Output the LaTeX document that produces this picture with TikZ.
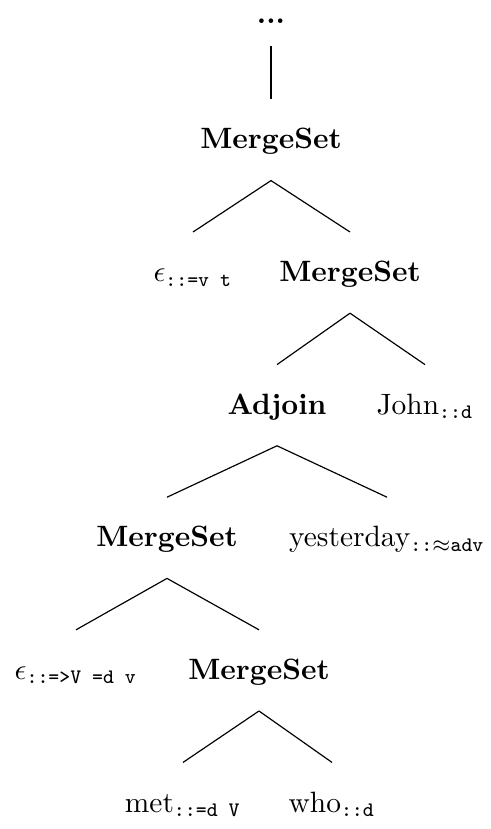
\documentclass[tikz,border=0pt]{standalone}
\usepackage{amsmath}
\newcommand{\sbtt}[1]{\text{\ttfamily #1}}
\begin{document}
\begin{tikzpicture}[x=0.34pt,y=-0.34pt,
  tn/.style={anchor=base, inner sep=0pt, text height=16.66pt, text depth=10.54pt},
  topnode/.style={anchor=base, inner sep=0pt, text height=5pt, text depth=7.14pt},
  branch/.style={line width=0.4pt}]
\useasboundingbox (0,0) rectangle (491,829);
\node[topnode] (top) at (271,24) {\textbf{...}};
\node[tn] (m1) at (271,149) {\textbf{MergeSet}};
\node[tn] (e1) at (193,281.6) {$\epsilon_{\sbtt{::=v t}}$};
\node[tn] (m2) at (350,281.6) {\textbf{MergeSet}};
\node[tn] (adj) at (277,414.2) {\textbf{Adjoin}};
\node[tn] (john) at (425,414.2) {John$_{\sbtt{::d}}$};
\node[tn] (m3) at (167,546.8) {\textbf{MergeSet}};
\node[tn] (yest) at (387,546.8) {yesterday$_{\sbtt{::}\approx\sbtt{adv}}$};
\node[tn] (e2) at (76,679.4) {$\epsilon_{\sbtt{::=>V =d v}}$};
\node[tn] (m4) at (259,679.4) {\textbf{MergeSet}};
\node[tn] (met) at (183,812) {met$_{\sbtt{::=d V}}$};
\node[tn] (who) at (332,812) {who$_{\sbtt{::d}}$};
\draw[branch] (top.south) -- (m1.north);
\draw[branch] (m1.south) -- (e1.north);
\draw[branch] (m1.south) -- (m2.north);
\draw[branch] (m2.south) -- (adj.north);
\draw[branch] (m2.south) -- (john.north);
\draw[branch] (adj.south) -- (m3.north);
\draw[branch] (adj.south) -- (yest.north);
\draw[branch] (m3.south) -- (e2.north);
\draw[branch] (m3.south) -- (m4.north);
\draw[branch] (m4.south) -- (met.north);
\draw[branch] (m4.south) -- (who.north);
\end{tikzpicture}
\end{document}
